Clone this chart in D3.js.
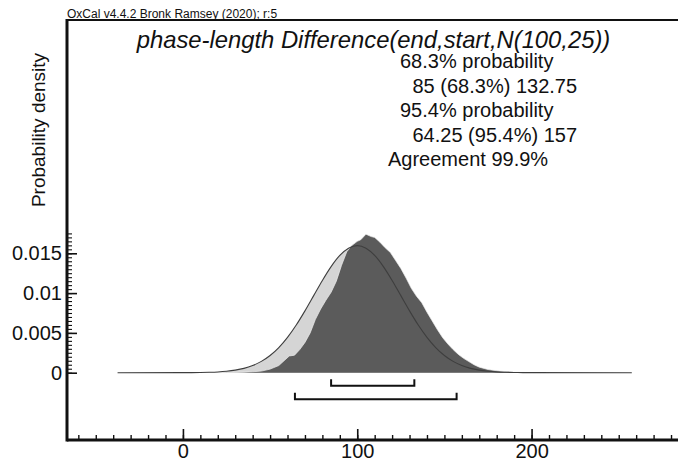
<!DOCTYPE html>
<html><head><meta charset="utf-8">
<script src="https://cdn.jsdelivr.net/npm/d3@7"></script>
<style>html,body{margin:0;padding:0;background:#fff;} svg{display:block;font-family:"Liberation Sans",Arial,sans-serif;}</style>
</head><body><svg id="c" width="678" height="460"></svg>
<script>
// ---------- data ----------
const headerText = "OxCal v4.4.2 Bronk Ramsey (2020); r:5";
const titleText = "phase-length Difference(end,start,N(100,25))";
const yLabelText = "Probability density";

// prior / likelihood N(100,25) (light grey, outlined)
const priorX = [-37.5, 0, 5, 10, 15, 20, 25, 30, 35, 40, 45, 50, 55, 60, 65, 70, 75, 80, 85, 90, 95, 100,
  105, 110, 115, 120, 125, 130, 135, 140, 145, 150, 155, 160, 165, 170, 175, 180, 185, 190, 195, 200, 257.5];
const priorY = [0, 0.000005, 0.000011, 0.000024, 0.00005, 0.000095, 0.00018, 0.00032, 0.00054, 0.0009, 0.00142,
  0.00216, 0.00316, 0.00444, 0.00599, 0.00777, 0.00968, 0.01159, 0.01333, 0.01473, 0.01564, 0.01596,
  0.01564, 0.01473, 0.01333, 0.01159, 0.00968, 0.00777, 0.00599, 0.00444, 0.00316, 0.00216, 0.00142,
  0.0009, 0.00054, 0.00032, 0.00018, 0.000095, 0.00005, 0.000024, 0.000011, 0.000005, 0];

// posterior (dark grey)
const postX = [20, 25, 30, 35, 40, 45, 50, 55, 58, 61, 64, 67, 70, 73, 76, 79, 82, 85, 88, 91, 94, 97, 100, 102,
  105, 108, 110, 113, 116, 119, 122, 125, 128, 131, 134, 137, 140, 143, 146, 149, 152, 155, 158, 161, 164, 167,
  170, 175, 180, 185, 190, 195, 200, 210];
const postY = [0, 0.00002, 0.00004, 0.00007, 0.00012, 0.0002, 0.00045, 0.0009, 0.0015, 0.0021, 0.0022, 0.0029,
  0.0038, 0.005, 0.0067, 0.008, 0.0091, 0.0101, 0.0115, 0.0135, 0.0152, 0.016, 0.0165, 0.0167,
  0.0174, 0.0171, 0.017, 0.0164, 0.0157, 0.0151, 0.0141, 0.0131, 0.0119, 0.0106, 0.0096, 0.0088,
  0.0076, 0.0065, 0.0054, 0.0044, 0.0036, 0.0029, 0.0023, 0.0018, 0.0014, 0.001,
  0.0007, 0.0004, 0.00025, 0.00015, 0.00008, 0.00004, 0.00002, 0];

const range68 = [85, 132.75];
const range95 = [64.25, 157];
const agreement = 99.9;

const xMajorTicks = [0, 100, 200];
const yMajorTicks = [0, 0.005, 0.01, 0.015];
const yTickLabels = ["0", "0.005", "0.01", "0.015"];

(function () {
// ---------- layout ----------
const svg = d3.select("#c");
const leftX = 67, rightX = 678, topY = 20, bottomY = 440;
const x = d3.scaleLinear().domain([-66.5, 284]).range([leftX, rightX]);
const y = d3.scaleLinear().domain([0, 0.015]).range([372.7, 253.3]);

const xMinor = d3.range(-60, 281, 10);
const yMinor = d3.range(0, 0.01751, 0.0005);

// header
svg.append("text").attr("x", 67).attr("y", 17.5).attr("font-size", 12).attr("fill", "#111").text(headerText);

// title
svg.append("text").attr("x", 373.5).attr("y", 48).attr("text-anchor", "middle")
  .attr("font-size", 23.8).attr("font-style", "italic").attr("fill", "#111").text(titleText);

// stats
const stats = [
  {t: "68.3% probability", x: 400, y: 67.5},
  {t: `${range68[0]} (68.3%) ${range68[1]}`, x: 412.5, y: 92.5},
  {t: "95.4% probability", x: 400, y: 117},
  {t: `${range95[0]} (95.4%) ${range95[1]}`, x: 412.5, y: 141.5},
  {t: `Agreement ${agreement}%`, x: 388, y: 166}
];
svg.selectAll("text.stat").data(stats).join("text").attr("class", "stat")
  .attr("x", d => d.x).attr("y", d => d.y).attr("font-size", 20).attr("fill", "#111").text(d => d.t);

// y label
svg.append("text").attr("transform", "translate(45,130) rotate(-90)").attr("text-anchor", "middle")
  .attr("font-size", 19).attr("fill", "#111").text(yLabelText);

// distributions
const priorData = priorX.map((v, i) => [v, priorY[i]]);
const postData = postX.map((v, i) => [v, postY[i]]);

const priorArea = d3.area().x(d => x(d[0])).y0(y(0)).y1(d => y(d[1])).curve(d3.curveMonotoneX);
const priorLine = d3.line().x(d => x(d[0])).y(d => y(d[1])).curve(d3.curveMonotoneX);
const postArea = d3.area().x(d => x(d[0])).y0(y(0)).y1(d => y(d[1])).curve(d3.curveLinear);
const postLine = d3.line().x(d => x(d[0])).y(d => y(d[1])).curve(d3.curveLinear);

svg.append("path").datum(priorData).attr("d", priorArea).attr("fill", "#d5d5d5");
svg.append("path").datum(postData).attr("d", postArea).attr("fill", "#5b5b5b");
svg.append("path").datum(postData).attr("d", postLine).attr("fill", "none").attr("stroke", "#eeeeee").attr("stroke-width", 0.7);
svg.append("path").datum(priorData).attr("d", priorLine).attr("fill", "none").attr("stroke", "#3e3e3e").attr("stroke-width", 1.1);

// range brackets
function bracket(r, yy) {
  const g = svg.append("g").attr("fill", "none").attr("stroke", "#111").attr("stroke-width", 2);
  g.append("path").attr("d", `M${x(r[0])},${yy - 6.5}V${yy}H${x(r[1])}V${yy - 6.5}`);
}
bracket(range68, 385.7);
bracket(range95, 399.3);

// axes
const gx = svg.append("g").attr("transform", `translate(0,${bottomY})`);
gx.call(d3.axisBottom(x).tickValues(xMinor).tickSize(-5).tickFormat("")).call(g => g.select(".domain").remove());
gx.selectAll(".tick line").attr("stroke", "#111").attr("stroke-width", 1.4);
const gx2 = svg.append("g").attr("transform", `translate(0,${bottomY})`);
gx2.call(d3.axisBottom(x).tickValues(xMajorTicks).tickSize(-11).tickPadding(4)).call(g => g.select(".domain").remove());
gx2.selectAll(".tick line").attr("stroke", "#111").attr("stroke-width", 1.6);
gx2.selectAll(".tick text").attr("font-size", 20).attr("fill", "#111").attr("font-family", "Liberation Sans, Arial, sans-serif");

const gy = svg.append("g").attr("transform", `translate(${leftX},0)`);
gy.call(d3.axisLeft(y).tickValues(yMinor).tickSize(-5).tickFormat("")).call(g => g.select(".domain").remove());
gy.selectAll(".tick line").attr("stroke", "#111").attr("stroke-width", 1.1);
const gy2 = svg.append("g").attr("transform", `translate(${leftX},0)`);
gy2.call(d3.axisLeft(y).tickValues(yMajorTicks).tickSize(-10).tickPadding(5).tickFormat((d, i) => yTickLabels[i]))
  .call(g => g.select(".domain").remove());
gy2.selectAll(".tick line").attr("stroke", "#111").attr("stroke-width", 1.6);
gy2.selectAll(".tick text").attr("font-size", 20).attr("fill", "#111").attr("font-family", "Liberation Sans, Arial, sans-serif");

// frame lines
svg.append("line").attr("x1", leftX).attr("x2", rightX).attr("y1", topY).attr("y2", topY).attr("stroke", "#111").attr("stroke-width", 2);
svg.append("line").attr("x1", leftX).attr("x2", leftX).attr("y1", topY - 1).attr("y2", bottomY + 1.5).attr("stroke", "#111").attr("stroke-width", 3);
svg.append("line").attr("x1", leftX).attr("x2", rightX).attr("y1", bottomY).attr("y2", bottomY).attr("stroke", "#111").attr("stroke-width", 3);
})();
</script></body></html>
